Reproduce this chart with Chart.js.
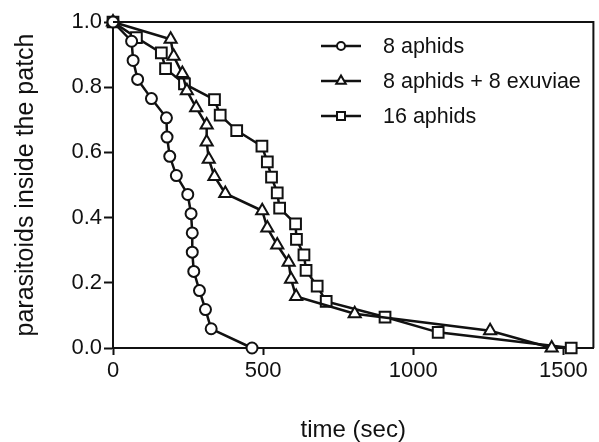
<!DOCTYPE html>
<html>
<head>
<meta charset="utf-8">
<script src="https://cdn.jsdelivr.net/npm/chart.js@4/dist/chart.umd.min.js"></script>
<style>
  html, body { margin: 0; padding: 0; background: #fff; overflow: hidden; }
  #wrap { width: 603px; height: 442px; }
</style>
</head>
<body>
<div id="wrap"><canvas id="chart"></canvas></div>
<script>
const seriesNames = ['8 aphids', '8 aphids + 8 exuviae', '16 aphids'];
const markerStyles = ['circle', 'triangle', 'rect'];

// time (sec) at which each parasitoid left, with fraction still inside
const aphids8Time = [0, 62, 67, 82, 128, 178, 180, 189, 211, 249, 260, 264, 264, 269, 288, 308, 327, 463];
const aphids8Frac = [1, 0.941, 0.882, 0.824, 0.765, 0.706, 0.647, 0.588, 0.529, 0.471, 0.412, 0.353, 0.294, 0.235, 0.176, 0.118, 0.059, 0];

const exuviaeTime = [0, 192, 202, 231, 246, 277, 312, 312, 319, 338, 374, 497, 514, 547, 585, 593, 610, 805, 1256, 1461];
const exuviaeFrac = [1, 0.947, 0.895, 0.842, 0.789, 0.737, 0.684, 0.632, 0.579, 0.526, 0.474, 0.421, 0.368, 0.316, 0.263, 0.211, 0.158, 0.105, 0.053, 0];

const aphids16Time = [0, 78, 161, 175, 238, 338, 357, 412, 496, 514, 528, 547, 555, 608, 611, 636, 643, 680, 710, 906, 1083, 1526];
const aphids16Frac = [1, 0.952, 0.905, 0.857, 0.81, 0.762, 0.714, 0.667, 0.619, 0.571, 0.524, 0.476, 0.429, 0.381, 0.333, 0.286, 0.238, 0.19, 0.143, 0.095, 0.048, 0];

const yTicks = [0, 0.2, 0.4, 0.6, 0.8, 1.0];
const xTicks = [0, 500, 1000, 1500];

function pairs(xs, ys) {
  return xs.map((x, i) => ({ x: x, y: ys[i] }));
}

const ink = '#111';
const pointRadius = [5.5, 7, 7.6];

const datasets = [
  pairs(aphids8Time, aphids8Frac),
  pairs(exuviaeTime, exuviaeFrac),
  pairs(aphids16Time, aphids16Frac)
].map((data, i) => ({
  label: seriesNames[i],
  data: data,
  borderColor: ink,
  borderWidth: 2.5,
  pointStyle: markerStyles[i],
  pointRadius: pointRadius[i],
  pointBorderWidth: 2,
  pointBackgroundColor: '#fff',
  pointBorderColor: ink,
  tension: 0,
  clip: false
}));

function marker(ctx, style, x, y, r) {
  ctx.beginPath();
  if (style === 'circle') {
    ctx.arc(x, y, r, 0, Math.PI * 2);
  } else if (style === 'triangle') {
    ctx.moveTo(x, y - r);
    ctx.lineTo(x + r * 0.866, y + r * 0.5);
    ctx.lineTo(x - r * 0.866, y + r * 0.5);
    ctx.closePath();
  } else {
    ctx.rect(x - r, y - r, 2 * r, 2 * r);
  }
  ctx.fillStyle = '#fff';
  ctx.fill();
  ctx.stroke();
}

const frameAndLegend = {
  id: 'frameAndLegend',
  afterDraw(chart) {
    const { ctx, chartArea: a } = chart;
    ctx.save();
    ctx.strokeStyle = ink;
    ctx.lineWidth = 2;
    ctx.beginPath();
    ctx.moveTo(a.left, a.top);
    ctx.lineTo(a.right, a.top);
    ctx.lineTo(a.right, a.bottom);
    ctx.stroke();

    const lx = 321, lw = 40, rowY = [46, 81, 116];
    const legendR = [4, 5.5, 4];
    ctx.font = '21.5px "Liberation Sans", Arial, sans-serif';
    ctx.textBaseline = 'middle';
    chart.data.datasets.forEach((ds, i) => {
      const y = rowY[i];
      ctx.strokeStyle = ink;
      ctx.lineWidth = 2.5;
      ctx.beginPath();
      ctx.moveTo(lx, y);
      ctx.lineTo(lx + lw, y);
      ctx.stroke();
      ctx.lineWidth = 2;
      marker(ctx, ds.pointStyle, lx + lw / 2, y, legendR[i]);
      ctx.fillStyle = ink;
      ctx.fillText(ds.label, lx + lw + 22, y + 1);
    });
    ctx.restore();
  }
};

const family = '"Liberation Sans", Arial, sans-serif';
const tickFont = { family: family, size: 22 };

new Chart(document.getElementById('chart'), {
  type: 'line',
  data: { datasets: datasets },
  options: {
    responsive: true,
    maintainAspectRatio: false,
    animation: false,
    layout: { padding: { top: 22, right: 1, left: 0, bottom: 0 } },
    plugins: {
      legend: { display: false },
      tooltip: { enabled: false }
    },
    scales: {
      x: {
        type: 'linear',
        min: 0,
        max: 1600,
        afterBuildTicks: (s) => { s.ticks = xTicks.map(v => ({ value: v })); },
        afterFit: (s) => { s.height = 94; s.paddingRight = 0; s.paddingLeft = 0; },
        ticks: { color: ink, font: tickFont, padding: 3, maxRotation: 0, callback: (v) => String(v) },
        grid: { drawOnChartArea: false, tickLength: 7, tickWidth: 2, color: ink },
        border: { color: ink, width: 2 },
        title: {
          display: true,
          text: 'time (sec)',
          color: ink,
          font: { family: family, size: 24 },
          padding: { top: 30, bottom: -3 }
        }
      },
      y: {
        min: 0,
        max: 1,
        afterBuildTicks: (s) => { s.ticks = yTicks.map(v => ({ value: v })); },
        afterFit: (s) => { s.width = 113; },
        ticks: { color: ink, font: tickFont, padding: 2, callback: (v) => v.toFixed(1) },
        grid: { drawOnChartArea: false, tickLength: 9, tickWidth: 2, color: ink },
        border: { color: ink, width: 2 },
        title: {
          display: true,
          text: 'parasitoids inside the patch',
          color: ink,
          font: { family: family, size: 25 },
          padding: { top: 11, bottom: 10 }
        }
      }
    }
  },
  plugins: [frameAndLegend]
});
</script>
</body>
</html>
